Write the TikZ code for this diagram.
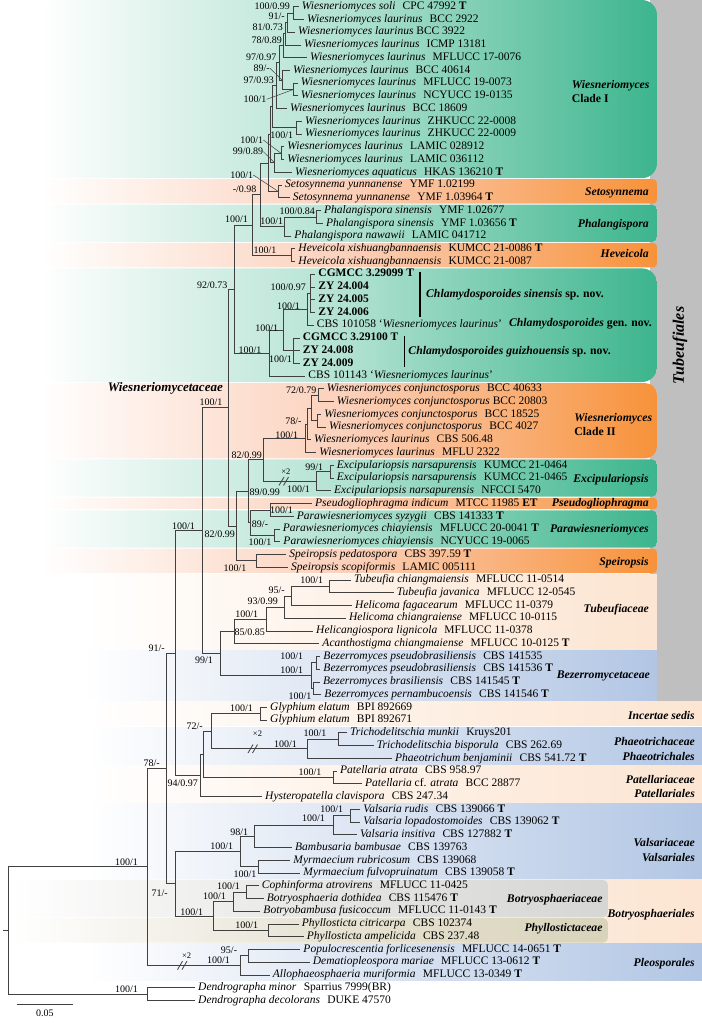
\documentclass[tikz,border=0pt]{standalone}
\usepackage{fontspec}
\setmainfont{Liberation Serif}
\usetikzlibrary{positioning}
\definecolor{grn}{RGB}{60,181,141}
\definecolor{org}{RGB}{247,146,58}
\definecolor{orgm}{RGB}{251,208,186}
\definecolor{pch}{RGB}{252,229,210}
\definecolor{blu}{RGB}{178,198,228}
\definecolor{gry}{RGB}{191,191,191}
\definecolor{bgry}{RGB}{214,214,212}
\definecolor{khk}{RGB}{216,211,186}
\tikzset{br/.style={draw=black!75,line width=0.8pt},
	 ld/.style={draw=black!75,line width=0.5pt},
	 leaf/.style={anchor=west,inner xsep=3pt,inner ysep=0pt,text height=8pt,text depth=2.5pt,font=\fontsize{11.5}{13}\selectfont},
	 sv/.style={anchor=east,inner sep=0pt,font=\fontsize{10}{11}\selectfont},
	 clade/.style={inner sep=0pt,font=\fontsize{11.7}{14.2}\selectfont\bfseries},
	 gband/.style={left color=white,right color=grn,middle color=grn!40,rounded corners=#1},
	 gband/.default=4pt,
	 oband/.style={left color=white,right color=org,middle color=orgm,rounded corners=#1},
	 oband/.default=4pt,
	 pband/.style={left color=white,right color=pch,middle color=pch!55},
	 bband/.style={left color=white,right color=blu,middle color=blu!50},
	 gyband/.style={left color=white,right color=bgry,middle color=bgry!60,rounded corners=5pt},
	 kband/.style={left color=white,right color=khk,middle color=khk!60,rounded corners=5pt}
	 }
\newcommand{\tgap}{\hspace{0.63em}}

\begin{document}
\begin{tikzpicture}[x=1pt,y=-12.74pt] % tree of Tubeufiales and allies
	\useasboundingbox (0,0.474) rectangle (702,80.774);
	% background bands
	\fill[gry] (650,0.474) rectangle (702,55.55);
	\shade[gband=15pt] (40,0.474) rectangle (657,14.46);
	\shade[oband] (40,14.54) rectangle (657,16.46);
	\shade[gband=5pt] (40,16.54) rectangle (657,19.46);
	\shade[oband] (40,19.54) rectangle (657,21.46);
	\shade[gband=15pt] (40,21.54) rectangle (657,30.46);
	\shade[oband=12pt] (40,30.54) rectangle (657,36.46);
	\shade[gband=5pt] (40,36.54) rectangle (657,39.46);
	\shade[oband=3pt] (40,39.56) rectangle (657,40.44);
	\shade[gband=5pt] (40,40.54) rectangle (657,43.46);
	\shade[oband] (40,43.54) rectangle (657,45.46);
	\shade[pband] (83,45.54) rectangle (657,51.46);
	\shade[bband] (83,51.54) rectangle (657,55.46);
	\shade[pband] (85,55.54) rectangle (702,57.46);
	\shade[bband] (85,57.54) rectangle (702,60.46);
	\shade[pband] (85,60.54) rectangle (702,63.46);
	\shade[bband] (85,63.54) rectangle (702,69.46);
	\shade[pband] (85,69.54) rectangle (702,74.46);
	\shade[gyband] (10,69.54) rectangle (608,72.46);
	\shade[kband] (10,72.54) rectangle (608,74.46);
	\shade[bband] (85,74.54) rectangle (702,77.46);

	% taxa
	\node[leaf] (t1) at (298.7,1) {\textit{Wiesneriomyces soli}\tgap CPC 47992 \textbf{T}};
	\node[leaf] (t2) at (304,2) {\textit{Wiesneriomyces laurinus}\tgap BCC 2922};
	\node[leaf] (t3) at (295,3) {\textit{Wiesneriomyces laurinus} BCC 3922};
	\node[leaf] (t4) at (301,4) {\textit{Wiesneriomyces laurinus}\tgap ICMP 13181};
	\node[leaf] (t5) at (307,5) {\textit{Wiesneriomyces laurinus}\tgap MFLUCC 17-0076};
	\node[leaf] (t6) at (290,6) {\textit{Wiesneriomyces laurinus}\tgap BCC 40614};
	\node[leaf] (t7) at (297.7,7) {\textit{Wiesneriomyces laurinus}\tgap MFLUCC 19-0073};
	\node[leaf] (t8) at (297.7,8) {\textit{Wiesneriomyces laurinus}\tgap NCYUCC 19-0135};
	\node[leaf] (t9) at (287,9) {\textit{Wiesneriomyces laurinus}\tgap BCC 18609};
	\node[leaf] (t10) at (302,10) {\textit{Wiesneriomyces laurinus}\tgap ZHKUCC 22-0008};
	\node[leaf] (t11) at (302,11) {\textit{Wiesneriomyces laurinus}\tgap ZHKUCC 22-0009};
	\node[leaf] (t12) at (284.3,12) {\textit{Wiesneriomyces laurinus}\tgap LAMIC 028912};
	\node[leaf] (t13) at (284.3,13) {\textit{Wiesneriomyces laurinus}\tgap LAMIC 036112};
	\node[leaf] (t14) at (292,14) {\textit{Wiesneriomyces aquaticus}\tgap HKAS 136210 \textbf{T}};
	\node[leaf] (t15) at (282,15) {\textit{Setosynnema yunnanense}\tgap YMF 1.02199};
	\node[leaf] (t16) at (289.7,16) {\textit{Setosynnema yunnanense}\tgap YMF 1.03964 \textbf{T}};
	\node[leaf] (t17) at (321,17) {\textit{Phalangispora sinensis}\tgap YMF 1.02677};
	\node[leaf] (t18) at (323,18) {\textit{Phalangispora sinensis}\tgap YMF 1.03656 \textbf{T}};
	\node[leaf] (t19) at (291.3,19) {\textit{Phalangispora nawawii}\tgap LAMIC 041712};
	\node[leaf] (t20) at (295.3,20) {\textit{Heveicola xishuangbannaensis}\tgap KUMCC 21-0086 \textbf{T}};
	\node[leaf] (t21) at (295.3,21) {\textit{Heveicola xishuangbannaensis}\tgap KUMCC 21-0087};
	\node[leaf] (t22) at (315.3,22) {\textbf{CGMCC 3.29099 T}};
	\node[leaf] (t23) at (315.3,23) {\textbf{ZY 24.004}};
	\node[leaf] (t24) at (315.3,24) {\textbf{ZY 24.005}};
	\node[leaf] (t25) at (315.3,25) {\textbf{ZY 24.006}};
	\node[leaf] (t26) at (313.7,26) {CBS 101058 `\textit{Wiesneriomyces laurinus}'};
	\node[leaf] (t27) at (299.7,27) {\textbf{CGMCC 3.29100 T}};
	\node[leaf] (t28) at (299.7,28) {\textbf{ZY 24.008}};
	\node[leaf] (t29) at (299.7,29) {\textbf{ZY 24.009}};
	\node[leaf] (t30) at (305.3,30) {CBS 101143 `\textit{Wiesneriomyces laurinus}'};
	\node[leaf] (t31) at (323.7,31) {\textit{Wiesneriomyces conjunctosporus}\tgap BCC 40633};
	\node[leaf] (t32) at (333.7,32) {\textit{Wiesneriomyces conjunctosporus} BCC 20803};
	\node[leaf] (t33) at (321.3,33) {\textit{Wiesneriomyces conjunctosporus}\tgap BCC 18525};
	\node[leaf] (t34) at (326,34) {\textit{Wiesneriomyces conjunctosporus}\tgap BCC 4027};
	\node[leaf] (t35) at (311,35) {\textit{Wiesneriomyces laurinus}\tgap CBS 506.48};
	\node[leaf] (t36) at (316.3,36) {\textit{Wiesneriomyces laurinus}\tgap MFLU 2322};
	\node[leaf] (t37) at (333.7,37) {\textit{Excipulariopsis narsapurensis}\tgap KUMCC 21-0464};
	\node[leaf] (t38) at (333.7,38) {\textit{Excipulariopsis narsapurensis}\tgap KUMCC 21-0465};
	\node[leaf] (t39) at (331,39) {\textit{Excipulariopsis narsapurensis}\tgap NFCCI 5470};
	\node[leaf] (t40) at (312,40) {\textit{Pseudogliophragma indicum}\tgap MTCC 11985 \textbf{ET}};
	\node[leaf] (t41) at (293.7,41) {\textit{Parawiesneriomyces syzygii}\tgap CBS 141333 \textbf{T}};
	\node[leaf] (t42) at (279.7,42) {\textit{Parawiesneriomyces chiayiensis}\tgap MFLUCC 20-0041 \textbf{T}};
	\node[leaf] (t43) at (280.3,43) {\textit{Parawiesneriomyces chiayiensis}\tgap NCYUCC 19-0065};
	\node[leaf] (t44) at (286.3,44) {\textit{Speiropsis pedatospora}\tgap CBS 397.59 \textbf{T}};
	\node[leaf] (t45) at (288,45) {\textit{Speiropsis scopiformis}\tgap LAMIC 005111};
	\node[leaf] (t46) at (351,46) {\textit{Tubeufia chiangmaiensis}\tgap MFLUCC 11-0514};
	\node[leaf] (t47) at (393.7,47) {\textit{Tubeufia javanica}\tgap MFLUCC 12-0545};
	\node[leaf] (t48) at (352,48) {\textit{Helicoma fagacearum}\tgap MFLUCC 11-0379};
	\node[leaf] (t49) at (346,49) {\textit{Helicoma chiangraiense}\tgap MFLUCC 10-0115};
	\node[leaf] (t50) at (313,50) {\textit{Helicangiospora lignicola}\tgap MFLUCC 11-0378};
	\node[leaf] (t51) at (319.3,51) {\textit{Acanthostigma chiangmaiense}\tgap MFLUCC 10-0125 \textbf{T}};
	\node[leaf] (t52) at (320.3,52) {\textit{Bezerromyces pseudobrasiliensis}\tgap CBS 141535};
	\node[leaf] (t53) at (320.3,53) {\textit{Bezerromyces pseudobrasiliensis}\tgap CBS 141536 \textbf{T}};
	\node[leaf] (t54) at (320,54) {\textit{Bezerromyces brasiliensis}\tgap CBS 141545 \textbf{T}};
	\node[leaf] (t55) at (321.3,55) {\textit{Bezerromyces pernambucoensis}\tgap CBS 141546 \textbf{T}};
	\node[leaf] (t56) at (267,56) {\textit{Glyphium elatum}\tgap BPI 892669};
	\node[leaf] (t57) at (267,57) {\textit{Glyphium elatum}\tgap BPI 892671};
	\node[leaf] (t58) at (347,58) {\textit{Trichodelitschia munkii}\tgap Kruys201};
	\node[leaf] (t59) at (373.7,59) {\textit{Trichodelitschia bisporula}\tgap CBS 262.69};
	\node[leaf] (t60) at (392,60) {\textit{Phaeotrichum benjaminii}\tgap CBS 541.72 \textbf{T}};
	\node[leaf] (t61) at (337,61) {\textit{Patellaria atrata}\tgap CBS 958.97};
	\node[leaf] (t62) at (362,62) {\textit{Patellaria} cf. \textit{atrata}\tgap BCC 28877};
	\node[leaf] (t63) at (262,63) {\textit{Hysteropatella clavispora}\tgap CBS 247.34};
	\node[leaf] (t64) at (360.3,64) {\textit{Valsaria rudis}\tgap CBS 139066 \textbf{T}};
	\node[leaf] (t65) at (360.3,65) {\textit{Valsaria lopadostomoides}\tgap CBS 139062 \textbf{T}};
	\node[leaf] (t66) at (357,66) {\textit{Valsaria insitiva}\tgap CBS 127882 \textbf{T}};
	\node[leaf] (t67) at (292,67) {\textit{Bambusaria bambusae}\tgap CBS 139763};
	\node[leaf] (t68) at (290.3,68) {\textit{Myrmaecium rubricosum}\tgap CBS 139068};
	\node[leaf] (t69) at (300.3,69) {\textit{Myrmaecium fulvopruinatum}\tgap CBS 139058 \textbf{T}};
	\node[leaf] (t70) at (258.7,70) {\textit{Cophinforma atrovirens}\tgap MFLUCC 11-0425};
	\node[leaf] (t71) at (263.7,71) {\textit{Botryosphaeria dothidea}\tgap CBS 115476 \textbf{T}};
	\node[leaf] (t72) at (260.3,72) {\textit{Botryobambusa fusicoccum}\tgap MFLUCC 11-0143 \textbf{T}};
	\node[leaf] (t73) at (298.7,73) {\textit{Phyllosticta citricarpa}\tgap CBS 102374};
	\node[leaf] (t74) at (303.7,74) {\textit{Phyllosticta ampelicida}\tgap CBS 237.48};
	\node[leaf] (t75) at (300.3,75) {\textit{Populocrescentia forlicesenensis}\tgap MFLUCC 14-0651 \textbf{T}};
	\node[leaf] (t76) at (309.7,76) {\textit{Dematiopleospora mariae}\tgap MFLUCC 13-0612 \textbf{T}};
	\node[leaf] (t77) at (269.7,77) {\textit{Allophaeosphaeria muriformia}\tgap MFLUCC 13-0349 \textbf{T}};
	\node[leaf] (t78) at (195,78) {\textit{Dendrographa minor}\tgap Sparrius 7999(BR)};
	\node[leaf] (t79) at (195,79) {\textit{Dendrographa decolorans}\tgap DUKE 47570};

	% internal nodes
	\coordinate (w1) at (293,1.5);     \coordinate (w2) at (287.3,2.25);
	\coordinate (w3) at (285.5,3.125); \coordinate (w4) at (283.5,4.06);
	\coordinate (w5) at (293.3,7.5);   \coordinate (w6) at (282,6.75);
	\coordinate (w7) at (279.3,5.405); \coordinate (w8) at (276.7,7.2);
	\coordinate (w9) at (296.7,10.5);  \coordinate (w10) at (272,8.85);
	\coordinate (w11) at (281,12.5);   \coordinate (w12) at (274.5,13.25);
	\coordinate (w13) at (270.8,11.05);\coordinate (se) at (278.3,15.5);
	\coordinate (w14) at (268.3,13.27);\coordinate (ps1) at (316,17.5);
	\coordinate (ps2) at (284.3,18.25);\coordinate (w15) at (260,15.76);
	\coordinate (hv) at (291,20.5);    \coordinate (w16) at (252.3,18.13);
	\coordinate (cl1) at (310,23.5);   \coordinate (cl2) at (307.7,24.75);
	\coordinate (cl3) at (293.3,28);   \coordinate (cl4) at (283.3,26.375);
	\coordinate (cl5) at (269.3,28.19);\coordinate (w17) at (234.3,23.16);
	\coordinate (k1) at (318.3,31.5);  \coordinate (k2) at (317.3,33.5);
	\coordinate (k3) at (311.7,32.5);  \coordinate (k4) at (307.3,33.75);
	\coordinate (k5) at (305.5,34.875);\coordinate (ex1) at (330,37.5);
	\coordinate (ex2) at (316,38.25);  \coordinate (w18) at (263.3,36.56);
	\coordinate (pw1) at (270,40.5);   \coordinate (pw2) at (274.3,42.5);
	\coordinate (pw3) at (250.3,41.5); \coordinate (w19) at (248.3,39.03);
	\coordinate (sp) at (256,44.5);    \coordinate (w20) at (236,41.77);
	\coordinate (wf) at (228.3,32.465);
	\coordinate (tb1) at (329.3,46.5); \coordinate (tb2) at (291,47.25);
	\coordinate (tb3) at (284.3,48.125);\coordinate (tb4) at (266.7,49.06);
	\coordinate (tb5) at (234.3,50.03);\coordinate (bz1) at (316,52.5);
	\coordinate (bz2) at (313.3,54.5); \coordinate (bz3) at (311.7,53.5);
	\coordinate (u1) at (220.7,51.77); \coordinate (tf) at (202.3,42.12);
	\coordinate (gl) at (260,56.5);    \coordinate (pt1) at (338.3,58.5);
	\coordinate (pt2) at (307.3,59.25);\coordinate (u2) at (211.7,57.875);
	\coordinate (pa) at (333.3,61.5);  \coordinate (u3) at (203.3,59.69);
	\coordinate (u4) at (200,61.34);   \coordinate (u5) at (175,51.73);
	\coordinate (va1) at (350,64.5);   \coordinate (va2) at (333.3,65.25);
	\coordinate (va3) at (254,66.125); \coordinate (va4) at (258.3,68.5);
	\coordinate (va5) at (240,67.31);  \coordinate (bo1) at (246.7,70.5);
	\coordinate (bo2) at (233.3,71.25);\coordinate (py) at (268.3,73.5);
	\coordinate (bo3) at (213.3,72.375);\coordinate (u6) at (175,69.84);
	\coordinate (u7) at (166.7,60.79); \coordinate (pl1) at (248.3,75.5);
	\coordinate (pl2) at (240.7,76.25);\coordinate (ig) at (147.7,68.52);
	\coordinate (dd) at (147.7,78.5);  \coordinate (rt) at (8.3,73.51);
	\coordinate (r0) at (3,73.51);

	% branches
	\draw[br] (w1) |- (t1) (w1) |- (t2); \draw[br] (w2) |- (w1) (w2) |- (t3);
	\draw[br] (w3) |- (w2) (w3) |- (t4); \draw[br] (w4) |- (w3) (w4) |- (t5);
	\draw[br] (w5) |- (t7) (w5) |- (t8); \draw[br] (w6) |- (t6) (w6) |- (w5);
	\draw[br] (w7) |- (w4) (w7) |- (w6); \draw[br] (w8) |- (w7) (w8) |- (t9);
	\draw[br] (w9) |- (t10) (w9) |- (t11); \draw[br] (w10) |- (w8) (w10) |- (w9);
	\draw[br] (w11) |- (t12) (w11) |- (t13); \draw[br] (w12) |- (w11) (w12) |- (t14);
	\draw[br] (w13) |- (w10) (w13) |- (w12); \draw[br] (se) |- (t15) (se) |- (t16);
	\draw[br] (w14) |- (w13) (w14) |- (se); \draw[br] (ps1) |- (t17) (ps1) |- (t18);
	\draw[br] (ps2) |- (ps1) (ps2) |- (t19); \draw[br] (w15) |- (w14) (w15) |- (ps2);
	\draw[br] (hv) |- (t20) (hv) |- (t21); \draw[br] (w16) |- (w15) (w16) |- (hv);
	\draw[br] (cl1) |- (t22) (cl1) |- (t23) (cl1) |- (t24) (cl1) |- (t25);
	\draw[br] (cl2) |- (cl1) (cl2) |- (t26);
	\draw[br] (cl3) |- (t27) (cl3) |- (t28) (cl3) |- (t29);
	\draw[br] (cl4) |- (cl2) (cl4) |- (cl3); \draw[br] (cl5) |- (cl4) (cl5) |- (t30);
	\draw[br] (w17) |- (w16) (w17) |- (cl5);
	\draw[br] (k1) |- (t31) (k1) |- (t32); \draw[br] (k2) |- (t33) (k2) |- (t34);
	\draw[br] (k3) |- (k1) (k3) |- (k2); \draw[br] (k4) |- (k3) (k4) |- (t35);
	\draw[br] (k5) |- (k4) (k5) |- (t36);
	\draw[br] (ex1) |- (t37) (ex1) |- (t38); \draw[br] (ex2) |- (ex1) (ex2) |- (t39);
	\draw[br] (w18) |- (k5) (w18) |- (ex2);
	\draw[br] (pw1) |- (t40) (pw1) |- (t41); \draw[br] (pw2) |- (t42) (pw2) |- (t43);
	\draw[br] (pw3) |- (pw1) (pw3) |- (pw2); \draw[br] (w19) |- (w18) (w19) |- (pw3);
	\draw[br] (sp) |- (t44) (sp) |- (t45); \draw[br] (w20) |- (w19) (w20) |- (sp);
	\draw[br] (wf) |- (w17) (wf) |- (w20);
	\draw[br] (tb1) |- (t46) (tb1) |- (t47); \draw[br] (tb2) |- (tb1) (tb2) |- (t48);
	\draw[br] (tb3) |- (tb2) (tb3) |- (t49); \draw[br] (tb4) |- (tb3) (tb4) |- (t50);
	\draw[br] (tb5) |- (tb4) (tb5) |- (t51);
	\draw[br] (bz1) |- (t52) (bz1) |- (t53); \draw[br] (bz2) |- (t54) (bz2) |- (t55);
	\draw[br] (bz3) |- (bz1) (bz3) |- (bz2);
	\draw[br] (u1) |- (tb5) (u1) |- (bz3); \draw[br] (tf) |- (wf) (tf) |- (u1);
	\draw[br] (gl) |- (t56) (gl) |- (t57);
	\draw[br] (pt1) |- (t58) (pt1) |- (t59); \draw[br] (pt2) |- (pt1) (pt2) |- (t60);
	\draw[br] (u2) |- (gl) (u2) |- (pt2);
	\draw[br] (pa) |- (t61) (pa) |- (t62); \draw[br] (u3) |- (u2) (u3) |- (pa);
	\draw[br] (u4) |- (u3) (u4) |- (t63); \draw[br] (u5) |- (tf) (u5) |- (u4);
	\draw[br] (va1) |- (t64) (va1) |- (t65); \draw[br] (va2) |- (va1) (va2) |- (t66);
	\draw[br] (va3) |- (va2) (va3) |- (t67); \draw[br] (va4) |- (t68) (va4) |- (t69);
	\draw[br] (va5) |- (va3) (va5) |- (va4);
	\draw[br] (bo1) |- (t70) (bo1) |- (t71); \draw[br] (bo2) |- (bo1) (bo2) |- (t72);
	\draw[br] (py) |- (t73) (py) |- (t74); \draw[br] (bo3) |- (bo2) (bo3) |- (py);
	\draw[br] (u6) |- (va5) (u6) |- (bo3); \draw[br] (u7) |- (u5) (u7) |- (u6);
	\draw[br] (pl1) |- (t75) (pl1) |- (t76); \draw[br] (pl2) |- (pl1) (pl2) |- (t77);
	\draw[br] (ig) |- (u7) (ig) |- (pl2);
	\draw[br] (dd) |- (t78) (dd) |- (t79);
	\draw[br] (rt) |- (ig) (rt) |- (dd); \draw[br] (r0) -- (rt);

	% shortened branches
	\draw[br] (279,38.58) -- (284,37.92) (283.5,38.58) -- (288.5,37.92);
	\draw[br] (248,59.58) -- (253,58.92) (252.5,59.58) -- (257.5,58.92);
	\draw[br] (177.5,76.58) -- (182.5,75.92) (182,76.58) -- (187,75.92);
	\node[font=\fontsize{8.5}{9}\selectfont,inner sep=0pt] (x1) at (285.8,37.5) {×2};
	\node[font=\fontsize{8.5}{9}\selectfont,inner sep=0pt] (x2) at (257.5,58.03) {×2};
	\node[font=\fontsize{8.5}{9}\selectfont,inner sep=0pt] (x3) at (186.7,75.51) {×2};

	% support values
	\node[sv] (s1) at (290,0.98) {100/0.99};
	\node[sv] (s2) at (285,1.72) {91/-};
	\node[sv] (s3) at (283,2.65) {81/0.73};
	\node[sv] (s4) at (282,3.67) {78/0.89};
	\node[sv] (s5) at (276.7,4.97) {97/0.97};
	\node[sv] (s6) at (270,5.83) {89/-};
	\node[sv] (s7) at (274,6.81) {97/0.93};
	\node[sv] (s8) at (266.7,8.27) {100/1};
	\node[sv] (s9) at (293.3,11.07) {100/1};
	\node[sv] (s10) at (263.3,11.46) {100/1};
	\node[sv] (s11) at (263.3,12.38) {99/0.89};
	\node[sv] (s12) at (253.3,14.21) {100/1};
	\node[sv] (s13) at (256.7,15.33) {-/0.98};
	\node[sv] (s14) at (315,17.09) {100/0.84};
	\node[sv] (s15) at (283.3,17.8) {100/1};
	\node[sv] (s16) at (248,17.66) {100/1};
	\node[sv] (s17) at (276.7,20.1) {100/1};
	\node[sv] (s18) at (227.5,22.84) {92/0.73};
	\node[sv] (s19) at (306,23.06) {100/0.97};
	\node[sv] (s20) at (300,24.49) {100/1};
	\node[sv] (s21) at (278.3,26.24) {100/1};
	\node[sv] (s22) at (261.7,27.95) {100/1};
	\node[sv] (s23) at (292,28.65) {100/1};
	\node[sv] (s24) at (222.7,32.08) {100/1};
	\node[sv] (s25) at (316.7,31.09) {72/0.79};
	\node[sv] (s26) at (301.7,33.57) {78/-};
	\node[sv] (s27) at (298.3,34.62) {100/1};
	\node[sv] (s28) at (262,36.19) {82/0.99};
	\node[sv] (s29) at (323.3,37.18) {99/1};
	\node[sv] (s30) at (310,38.86) {100/1};
	\node[sv] (s31) at (280,39.15) {89/0.99};
	\node[sv] (s32) at (293,40.56) {100/1};
	\node[sv] (s33) at (268.3,41.63) {89/-};
	\node[sv] (s34) at (271.7,43.04) {100/1};
	\node[sv] (s35) at (235,42.39) {82/0.99};
	\node[sv] (s36) at (195,41.74) {100/1};
	\node[sv] (s37) at (246.7,45.08) {100/1};
	\node[sv] (s38) at (323.3,46.05) {100/1};
	\node[sv] (s39) at (285,46.84) {95/-};
	\node[sv] (s40) at (278,47.7) {93/0.99};
	\node[sv] (s41) at (258.3,48.67) {100/1};
	\node[sv] (s42) at (265,50.14) {85/0.85};
	\node[sv] (s43) at (303.3,52.02) {100/1};
	\node[sv] (s44) at (303.3,53.12) {100/1};
	\node[sv] (s45) at (311.7,55.1) {100/1};
	\node[sv] (s46) at (213,52.33) {99/1};
	\node[sv] (s47) at (165,51.34) {91/-};
	\node[sv] (s48) at (253,56.05) {100/1};
	\node[sv] (s49) at (203,57.51) {72/-};
	\node[sv] (s50) at (297,58.87) {100/1};
	\node[sv] (s51) at (326.7,58.03) {100/1};
	\node[sv] (s52) at (321.7,61.05) {100/1};
	\node[sv] (s53) at (198,61.93) {94/0.97};
	\node[sv] (s54) at (160,60.36) {78/-};
	\node[sv] (s55) at (343.3,64.0) {100/1};
	\node[sv] (s56) at (325,64.7) {100/1};
	\node[sv] (s57) at (248.3,65.76) {98/1};
	\node[sv] (s58) at (233.3,66.88) {100/1};
	\node[sv] (s59) at (256.7,69.08) {100/1};
	\node[sv] (s60) at (240,70.02) {100/1};
	\node[sv] (s61) at (226,70.86) {100/1};
	\node[sv] (s62) at (203.3,72.04) {100/1};
	\node[sv] (s63) at (258.3,73.08) {100/1};
	\node[sv] (s64) at (168,70.57) {71/-};
	\node[sv] (s65) at (237.3,75.04) {95/-};
	\node[sv] (s66) at (230,75.83) {100/1};
	\node[sv] (s67) at (138,68.13) {100/1};
	\node[sv] (s68) at (138,78.1) {100/1};
	\draw[ld] (s6.east) -- (w6); \draw[ld] (s8.east) -- (w5);
	\draw[ld] (s10.east) -- (w11); \draw[ld] (s11.east) -- (w12);
	\draw[ld] (s12.east) -- (se);

	% clade labels
	\node[clade,anchor=west,align=left] (c1) at (571.7,7.66) {\textit{Wiesneriomyces}\\Clade I};
	\node[clade,anchor=east] (c2) at (649,15.62) {\textit{Setosynnema}};
	\node[clade,anchor=east] (c3) at (649,18.08) {\textit{Phalangispora}};
	\node[clade,anchor=east] (c4) at (649,20.41) {\textit{Heveicola}};
	\node[clade,anchor=west] (c5) at (426,23.58) {\textit{Chlamydosporoides sinensis} sp. nov.};
	\node[clade,anchor=east] (c6) at (652,25.9) {\textit{Chlamydosporoides} gen. nov.};
	\node[clade,anchor=west] (c7) at (408.3,28.08) {\textit{Chlamydosporoides guizhouensis} sp. nov.};
	\draw[line width=1.3pt] (420,21.8) -- (420,25.33);
	\draw[line width=1.3pt] (404.3,26.85) -- (404.3,29.28);
	\node[clade,anchor=west,align=left] (c8) at (574.3,33.78) {\textit{Wiesneriomyces}\\Clade II};
	\node[clade,anchor=east] (c9) at (649,38.15) {\textit{Excipulariopsis}};
	\node[clade,anchor=east] (c10) at (649,39.98) {\textit{Pseudogliophragma}};
	\node[clade,anchor=east] (c11) at (649,42.07) {\textit{Parawiesneriomyces}};
	\node[clade,anchor=east] (c12) at (649,44.64) {\textit{Speiropsis}};
	\node[clade,anchor=east] (c13) at (649,48.35) {\textit{Tubeufiaceae}};
	\node[clade,anchor=east] (c14) at (650,53.51) {\textit{Bezerromycetaceae}};
	\node[clade,anchor=east] (c15) at (695,56.6) {\textit{Incertae sedis}};
	\node[clade,anchor=east,align=right] (c16) at (695,59.27) {\textit{Phaeotrichaceae}\\\textit{Phaeotrichales}};
	\node[clade,anchor=east,align=right] (c17) at (695,62.19) {\textit{Patellariaceae}\\\textit{Patellariales}};
	\node[clade,anchor=east,align=right] (c18) at (695,67.2) {\textit{Valsariaceae}\\\textit{Valsariales}};
	\node[clade,anchor=east] (c19) at (602.7,71.06) {\textit{Botryosphaeriaceae}};
	\node[clade,anchor=east] (c20) at (602.7,73.41) {\textit{Phyllostictaceae}};
	\node[clade,anchor=east] (c21) at (695,72.29) {\textit{Botryosphaeriales}};
	\node[clade,anchor=east] (c22) at (695,76.09) {\textit{Pleosporales}};
	\node[inner sep=0pt,rotate=90,font=\fontsize{16}{18}\selectfont\bfseries\itshape] (c23) at (680,27.6) {Tubeufiales};
	\node[inner sep=0pt,anchor=east,font=\fontsize{13}{15}\selectfont\bfseries\itshape] (c24) at (223,30.95) {Wiesneriomycetaceae};

	% scale bar
	\coordinate (sb1) at (16.7,79.28); \coordinate (sb2) at (73.3,79.28);
	\draw[br] (sb1) -- (sb2);
	\node[font=\fontsize{10}{11}\selectfont,inner sep=0pt] (sbl) at (45,80.0) {0.05};
\end{tikzpicture}
\end{document}
